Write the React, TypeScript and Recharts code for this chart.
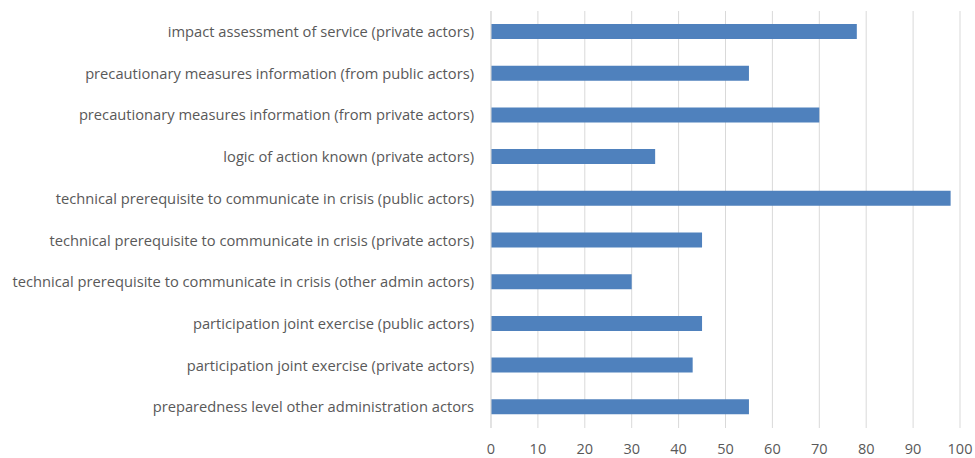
import React from "react";
import { BarChart, Bar, XAxis, YAxis, CartesianGrid } from "recharts";

const categories = [
  "impact assessment of service (private actors)",
  "precautionary measures information (from public actors)",
  "precautionary measures information (from private actors)",
  "logic of action known (private actors)",
  "technical prerequisite to communicate in crisis (public actors)",
  "technical prerequisite to communicate in crisis (private actors)",
  "technical prerequisite to communicate in crisis (other admin actors)",
  "participation joint exercise (public actors)",
  "participation joint exercise (private actors)",
  "preparedness level other administration actors",
];

const values = [78, 55, 70, 35, 98, 45, 30, 45, 43, 55];

const xTicks = [0, 10, 20, 30, 40, 50, 60, 70, 80, 90, 100];

const data = categories.map((name, i) => ({ name, value: values[i] }));

const font = "'Open Sans', sans-serif";

export default function App() {
  return (
    <div style={{ position: "absolute", left: 0, top: 0, background: "#fff" }}>
      <BarChart
        width={975}
        height={458}
        data={data}
        layout="vertical"
        margin={{ top: 11, right: 15, bottom: 0, left: 0 }}
      >
        <CartesianGrid horizontal={false} stroke="#d9d9d9" />
        <XAxis
          type="number"
          domain={[0, 100]}
          ticks={xTicks}
          height={30}
          axisLine={false}
          tickLine={false}
          tickSize={0}
          tickMargin={16}
          tick={{ fill: "#595959", fontSize: 14.5, fontFamily: font }}
        />
        <YAxis
          type="category"
          dataKey="name"
          width={491}
          axisLine={{ stroke: "#d9d9d9" }}
          tickLine={false}
          tickSize={0}
          tickMargin={17}
          interval={0}
          tick={{ fill: "#595959", fontSize: 14.7, fontFamily: font }}
        />
        <Bar dataKey="value" fill="#4f81bd" barSize={15} isAnimationActive={false} />
      </BarChart>
    </div>
  );
}
